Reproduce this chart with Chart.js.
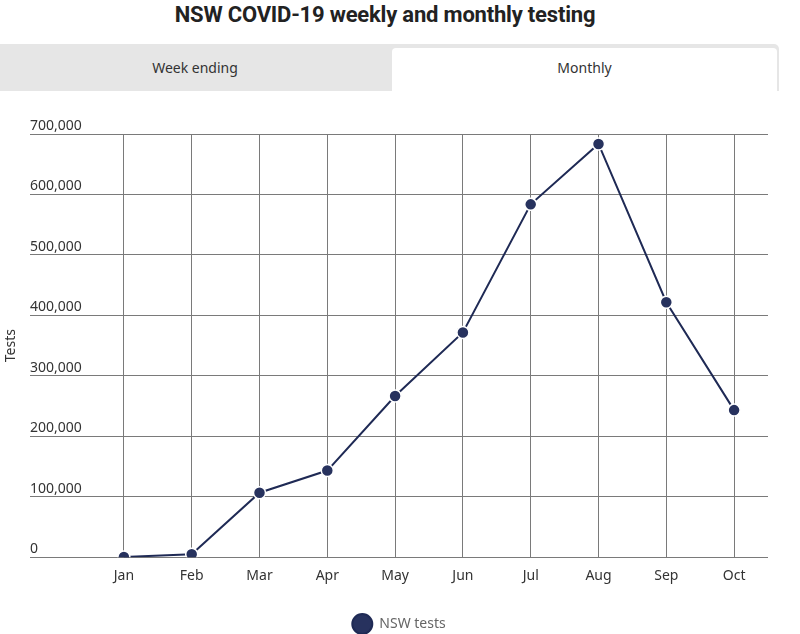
<!DOCTYPE html>
<html>
<head>
<meta charset="utf-8">
<script src="https://cdn.jsdelivr.net/npm/chart.js@4.4.1/dist/chart.umd.min.js"></script>
<style>
  body { margin: 0; width: 800px; height: 634px; background: #fff; font-family: "Noto Sans", sans-serif; position: relative; overflow: hidden; }
  h1 { position: absolute; top: 0; left: 0; width: 770px; margin: 0; text-align: center; font: 700 22px Roboto, "Noto Sans", sans-serif; color: #222; line-height: 30px; letter-spacing: -0.2px; }
  .tabs { position: absolute; top: 44px; left: 0; width: 779px; height: 47px; background: #e6e6e6; border-top-right-radius: 5px; }
  .tab { position: absolute; top: 4px; height: 43px; line-height: 40px; text-align: center; font-size: 14px; color: #333; }
  .tab.week { left: 0; width: 390px; }
  .tab.month { left: 392px; width: 385px; background: #fff; border-radius: 4px 4px 0 0; }
  .wrap { position: absolute; top: 100px; left: 0; width: 800px; height: 534px; }
</style>
</head>
<body>
<h1>NSW COVID-19 weekly and monthly testing</h1>
<div class="tabs">
  <div class="tab week">Week ending</div>
  <div class="tab month">Monthly</div>
</div>
<div class="wrap"><canvas id="myChart"></canvas></div>
<script>
const months = ['Jan', 'Feb', 'Mar', 'Apr', 'May', 'Jun', 'Jul', 'Aug', 'Sep', 'Oct'];
const nswTests = [500, 5000, 106700, 143300, 266700, 371700, 583600, 683600, 421700, 243300];
const yTicks = [0, 100000, 200000, 300000, 400000, 500000, 600000, 700000];

const gridColor = '#7a7a7a';
const navy = '#1f2a55';

const config = {
  type: 'line',
  data: {
    labels: months,
    datasets: [{
      label: 'NSW tests',
      data: nswTests,
      borderColor: navy,
      backgroundColor: '#27325e',
      borderWidth: 2,
      pointRadius: 6,
      pointHoverRadius: 6,
      pointBorderColor: '#fff',
      pointBorderWidth: 1.5,
      tension: 0,
    }],
  },
  options: {
    responsive: true,
    maintainAspectRatio: false,
    animation: false,
    layout: { padding: { left: 30, right: 32, top: 34, bottom: -10 } },
    plugins: {
      legend: {
        position: 'bottom',
        labels: {
          useBorderRadius: true,
          borderRadius: 10,
          boxWidth: 20,
          boxHeight: 20,
          padding: 20,
          color: '#666',
          font: { family: 'Noto Sans', size: 14 },
        },
      },
      tooltip: { enabled: false },
    },
    scales: {
      x: {
        offset: true,
        border: { display: false },
        grid: { color: gridColor, offset: false, drawTicks: false },
        ticks: { color: '#333', padding: 10, font: { family: 'Noto Sans', size: 14 } },
      },
      y: {
        min: 0,
        max: 700000,
        afterBuildTicks: (axis) => { axis.ticks = yTicks.map(v => ({ value: v })); },
        afterFit: (axis) => { axis.width = 60; },
        border: { display: false },
        grid: { color: gridColor, tickLength: 60, tickColor: gridColor },
        title: {
          display: true,
          text: 'Tests',
          color: '#333',
          font: { family: 'Noto Sans', size: 14 },
          padding: { top: -27, bottom: 0 },
        },
        ticks: {
          crossAlign: 'far',
          labelOffset: -8,
          color: '#333',
          font: { family: 'Noto Sans', size: 14 },
          callback: (v) => v.toLocaleString('en-US'),
        },
      },
    },
  },
};

const myChart = new Chart(document.getElementById('myChart'), config);
</script>
</body>
</html>
